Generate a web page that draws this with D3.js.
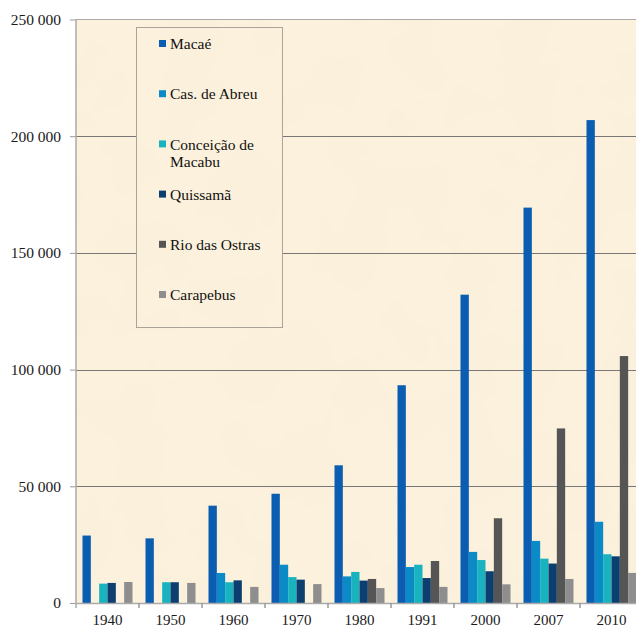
<!DOCTYPE html>
<html>
<head>
<meta charset="utf-8">
<script src="https://cdn.jsdelivr.net/npm/d3@7"></script>
<style>
  html, body { margin: 0; padding: 0; background: #fff; }
  svg { display: block; }
  svg text { font-family: "Liberation Serif", "DejaVu Serif", serif; }
</style>
</head>
<body>
<svg id="chart"></svg>
<script>
(function() {

// ---------- data ----------
const years = ["1940", "1950", "1960", "1970", "1980", "1991", "2000", "2007", "2010"];
const towns = ["Macaé", "Cas. de Abreu", "Conceição de Macabu", "Quissamã", "Rio das Ostras", "Carapebus"];

// population per town, one value per year (null = no data)
const macae      = [28900, 27700, 41700, 46800, 59000, 93300, 132100, 169400, 206900];
const casAbreu   = [null, null, 12850, 16400, 11400, 15400, 21900, 26600, 34800];
const conceicao  = [8300, 8900, 8900, 11100, 13300, 16400, 18400, 19000, 20900];
const quissama   = [8600, 8900, 9700, 10000, 9600, 10700, 13600, 16900, 20000];
const rioOstras  = [null, null, null, null, 10300, 18000, 36300, 74800, 105800];
const carapebus  = [9000, 8600, 6900, 8100, 6400, 6900, 8000, 10300, 12900];

const yTicks = [0, 50000, 100000, 150000, 200000, 250000];

const series = [macae, casAbreu, conceicao, quissama, rioOstras, carapebus];
const colors = ["#0b5db1", "#0a8bc8", "#19b3bf", "#0c3e6f", "#555555", "#8e8e8e"];

const serif = "Liberation Serif, DejaVu Serif, serif";

// ---------- layout ----------
const width = 636;
const height = 629;
const margin = { top: 19.5, left: 76 };
const plotW = 567;
const plotH = 583.5;
const bottom = margin.top + plotH;

const svg = d3.select("#chart")
  .attr("width", width)
  .attr("height", height)
  .attr("font-family", serif);

// paper texture
const defs = svg.append("defs");
const paper = defs.append("filter")
  .attr("id", "paper")
  .attr("x", 0).attr("y", 0).attr("width", 1).attr("height", 1);
paper.append("feFlood").attr("flood-color", "#fcf1dc").attr("result", "base");
paper.append("feTurbulence")
  .attr("type", "fractalNoise")
  .attr("baseFrequency", 0.018)
  .attr("numOctaves", 3)
  .attr("seed", 4)
  .attr("result", "noise");
paper.append("feColorMatrix")
  .attr("in", "noise")
  .attr("type", "matrix")
  .attr("values", "0 0 0 0 0.94  0 0 0 0 0.86  0 0 0 0 0.70  1.0 0 0 0 -0.38")
  .attr("result", "spots");
paper.append("feComposite").attr("in", "spots").attr("in2", "base").attr("operator", "over");

svg.append("rect")
  .attr("x", margin.left).attr("y", margin.top)
  .attr("width", plotW).attr("height", plotH)
  .attr("fill", "#fcf1dc")
  .attr("filter", "url(#paper)");

// ---------- scales ----------
const x0 = d3.scaleBand()
  .domain(years)
  .range([margin.left, margin.left + plotW])
  .paddingInner(0);

const x1 = d3.scaleBand()
  .domain(d3.range(towns.length))
  .range([0, x0.bandwidth()])
  .paddingInner(0)
  .paddingOuter(0.78);

const y = d3.scaleLinear()
  .domain([0, 250000])
  .range([bottom, margin.top]);

// ---------- gridlines ----------
svg.append("g")
  .selectAll("line")
  .data(yTicks.filter(d => d > 0 && d < 250000))
  .join("line")
    .attr("x1", margin.left).attr("x2", margin.left + plotW)
    .attr("y1", d => Math.round(y(d)) + 0.5)
    .attr("y2", d => Math.round(y(d)) + 0.5)
    .attr("stroke", "#777")
    .attr("stroke-width", 1);

// top border
svg.append("line")
  .attr("x1", margin.left).attr("x2", margin.left + plotW)
  .attr("y1", margin.top).attr("y2", margin.top)
  .attr("stroke", "#aaa").attr("stroke-width", 1);

// ---------- legend ----------
const legend = svg.append("g");
legend.append("rect")
  .attr("x", 136.5).attr("y", 27.5)
  .attr("width", 146).attr("height", 300)
  .attr("fill", "#fcf1dc")
  .attr("filter", "url(#paper)");
legend.append("rect")
  .attr("x", 136.5).attr("y", 27.5)
  .attr("width", 146).attr("height", 300)
  .attr("fill", "none")
  .attr("stroke", "#a9a39a")
  .attr("stroke-width", 1);

const legendLines = [["Macaé"], ["Cas. de Abreu"], ["Conceição de", "Macabu"], ["Quissamã"], ["Rio das Ostras"], ["Carapebus"]];

const item = legend.selectAll("g.item")
  .data(towns)
  .join("g")
    .attr("class", "item")
    .attr("transform", (d, i) => `translate(159, ${44 + i * 50.2})`);

item.append("rect")
  .attr("x", 0).attr("y", -4)
  .attr("width", 7).attr("height", 7)
  .attr("fill", (d, i) => colors[i]);

item.append("text")
  .attr("x", 11)
  .attr("font-family", serif)
  .attr("font-size", "15.5px")
  .attr("fill", "#111")
  .selectAll("tspan")
  .data((d, i) => legendLines[i])
  .join("tspan")
    .attr("x", 11)
    .attr("y", (d, j) => j * 17)
    .attr("dy", "0.33em")
    .text(d => d);

// ---------- bars ----------
svg.append("g")
  .selectAll("g")
  .data(years)
  .join("g")
    .attr("transform", d => `translate(${x0(d)},0)`)
  .selectAll("rect")
  .data((d, yi) => series.map((s, si) => ({ si, v: s[yi] })).filter(e => e.v != null))
  .join("rect")
    .attr("x", d => x1(d.si))
    .attr("width", x1.bandwidth())
    .attr("y", d => y(d.v))
    .attr("height", d => bottom - y(d.v))
    .attr("fill", d => colors[d.si]);

// ---------- axes ----------
const yAxis = svg.append("g")
  .attr("transform", `translate(${margin.left},0)`)
  .call(d3.axisLeft(y)
    .tickValues(yTicks)
    .tickSize(6)
    .tickPadding(9)
    .tickFormat(d => d3.format(",")(d).replace(/,/g, " ")));
yAxis.attr("font-family", serif).attr("font-size", "15.5px");
yAxis.select(".domain").remove();
yAxis.selectAll(".tick line").attr("stroke", "#999");
yAxis.selectAll("text").attr("fill", "#1a1a1a");

svg.append("line")
  .attr("x1", margin.left).attr("x2", margin.left)
  .attr("y1", margin.top).attr("y2", bottom + 5)
  .attr("stroke", "#aaa").attr("stroke-width", 1.5);

const xAxis = svg.append("g")
  .attr("transform", `translate(0,${bottom})`)
  .call(d3.axisBottom(x0).tickSize(0).tickPadding(11.5));
xAxis.attr("font-family", serif).attr("font-size", "15px");
xAxis.select(".domain").attr("stroke", "#aaa").attr("stroke-width", 1.5);
xAxis.selectAll("text").attr("fill", "#1a1a1a");

// x ticks sit on the band boundaries
svg.append("g")
  .selectAll("line")
  .data(years.slice(1))
  .join("line")
    .attr("x1", d => x0(d)).attr("x2", d => x0(d))
    .attr("y1", bottom).attr("y2", bottom + 5)
    .attr("stroke", "#999").attr("stroke-width", 1.5);

})();
</script>
</body>
</html>
